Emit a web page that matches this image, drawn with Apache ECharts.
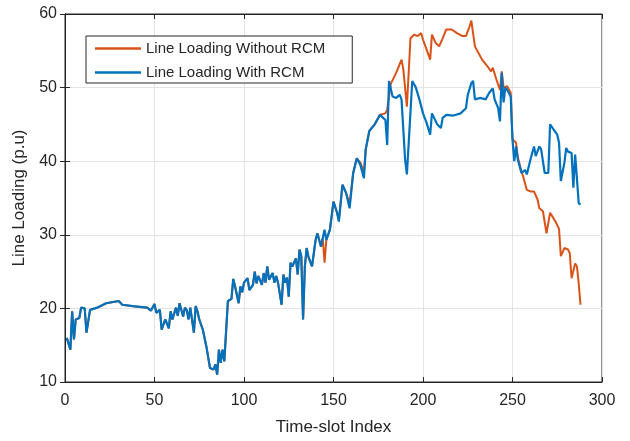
<!DOCTYPE html>
<html>
<head>
<meta charset="utf-8">
<script src="https://cdn.jsdelivr.net/npm/echarts@6/dist/echarts.min.js"></script>
<style>
html,body{margin:0;padding:0;background:#fff;}
#chart{width:630px;height:441px;}
</style>
</head>
<body>
<div id="chart"></div>
<script>
// ---- Data ----
const xTicks = [0, 50, 100, 150, 200, 250, 300];
const yTicks = [10, 20, 30, 40, 50, 60];
const seriesNames = ['Line Loading Without RCM', 'Line Loading With RCM'];

// Shared early part (both curves overlap up to slot ~143)
const commonSlots = [1,2,3,4,5,6,7,8,9,11,12,14,18,23,30,32,38,46,48,50,51,53,54,56,58,59,60,62,63,64,66,67,68,69,70,72,73,74,75,77,79,81,83,84,85,86,87,88,89,91,93,94,95,97,98,99,100,102,103,105,106,107,108,110,111,112,113,114,116,117,118,119,121,122,123,124,125,126,127,129,130,131,132,133,134,135,136,138,140,141,143];
const commonLoad = [16.0,15.8,14.4,19.6,15.8,18.5,18.7,18.7,20.1,20.0,16.7,19.8,20.1,20.7,21.0,20.5,20.3,20.1,19.7,20.6,19.4,19.8,17.1,18.5,17.3,19.6,18.5,20.1,19.0,20.7,18.9,20.1,19.8,18.5,20.1,16.7,20.3,19.6,18.5,17.1,14.8,11.9,11.7,12.4,11.0,14.4,12.6,14.4,12.8,21.0,21.3,24.0,23.0,20.7,23.0,22.2,23.5,24.1,22.5,23.2,25.0,23.4,24.4,23.2,24.8,23.5,25.7,23.9,24.8,23.5,24.4,23.5,20.5,24.6,23.5,24.2,21.6,26.2,25.7,26.8,24.6,28.0,27.1,18.5,25.7,28.2,27.0,25.7,29.3,30.2,28.4];

// Without RCM, rest of the curve
const withoutSlots = [144,145,146,148,150,152,153,155,157,159,161,163,165,167,168,170,173,176,179,180,182,185,188,189,191,193,195,197,199,200,202,204,205,207,209,211,213,216,219,222,224,226,227,228,229,231,233,236,238,239,241,243,244,245,247,249,250,252,253,255,256,258,260,262,264,265,267,269,270,271,274,276,277,279,281,282,283,285,286,287,288];
const withoutLoad = [29.5,26.2,29.3,30.7,34.5,33.0,32.0,36.8,35.7,34.2,38.4,40.4,39.8,38.5,41.6,44.1,45.0,46.3,46.5,47.0,50.5,52.0,53.8,52.5,47.4,56.7,57.2,57.0,57.4,56.5,55.2,53.8,57.2,56.1,55.6,56.7,57.9,57.9,57.4,57.0,57.0,58.3,59.1,59.0,55.6,54.7,53.8,52.9,52.2,52.7,51.1,49.7,52.2,50.0,50.2,49.3,43.0,42.5,40.5,38.6,37.9,36.1,35.9,35.9,34.8,33.6,33.2,30.2,30.0,33.0,31.8,30.8,27.1,28.2,28.0,27.5,24.1,26.1,25.7,23.4,20.5];

// With RCM, rest of the curve
const withSlots = [145,146,148,150,152,153,155,157,159,161,163,165,167,168,170,173,176,179,180,181,183,185,187,188,190,191,192,194,196,198,200,202,204,205,208,210,211,213,217,221,224,225,227,228,229,232,235,237,239,240,242,243,244,245,246,247,249,250,251,252,253,254,255,257,258,260,262,263,265,266,268,270,271,273,275,276,277,279,280,281,283,284,285,286,287,288];
const withLoad = [30.7,29.3,30.7,34.5,33.0,31.8,36.8,35.7,33.6,38.4,40.4,39.5,37.7,41.6,44.1,45.0,46.3,45.6,42.2,50.9,48.8,48.6,49.0,48.4,40.2,38.2,38.4,50.9,50.0,48.4,46.5,45.2,43.6,46.5,45.0,44.5,45.9,46.3,46.2,46.5,47.2,49.0,50.6,50.9,48.4,48.6,48.4,49.3,49.9,48.4,47.2,45.4,52.0,48.0,50.0,49.7,48.8,42.9,40.0,42.0,40.2,39.3,38.4,38.8,38.2,40.2,42.0,40.7,42.0,41.6,38.4,38.4,45.0,44.3,43.6,42.5,37.3,39.8,41.8,41.3,41.1,36.4,40.9,40.9,34.3,34.1];

// ---- Build series data ----
function pairs(xs, ys){ return xs.map((x,i)=>[x, ys[i]]); }
const withoutData = pairs(commonSlots, commonLoad).concat(pairs(withoutSlots, withoutLoad));
const withData = pairs(commonSlots, commonLoad).concat(pairs(withSlots, withLoad));

const FONT = 'Liberation Sans, Arial, sans-serif';
const TXT = '#262626';
const chart = echarts.init(document.getElementById('chart'), null, {renderer:'canvas'});
chart.setOption({
  backgroundColor: '#ffffff',
  animation: false,
  textStyle: {fontFamily: FONT},
  grid: {left: 65, right: 28, top: 14, bottom: 59, show: true, borderColor: '#262626', borderWidth: 1, backgroundColor:'#fff'},
  legend: {
    orient: 'vertical', left: 86, top: 36,
    backgroundColor: '#fff',
    borderColor: '#262626', borderWidth: 1, borderRadius: 0,
    padding: [5, 27, 3, 9],
    itemGap: 9, itemWidth: 46, itemHeight: 2.5,
    icon: 'rect',
    textStyle: {fontFamily: FONT, fontSize: 15, color: TXT},
    data: seriesNames
  },
  xAxis: [{
    type: 'value', min: xTicks[0], max: xTicks[xTicks.length-1], interval: 50,
    name: 'Time-slot Index', nameLocation: 'middle', nameGap: 37,
    nameTextStyle: {fontFamily: FONT, fontSize: 17, color: TXT},
    axisLine: {show: true, lineStyle: {color: '#262626'}},
    axisTick: {show: true, inside: true, length: 5, lineStyle: {color: '#262626'}},
    axisLabel: {fontFamily: FONT, fontSize: 16, color: TXT, margin: 11},
    splitLine: {show: true, lineStyle: {color: '#e3e3e3', width: 1}}
  },{
    type: 'value', position: 'top', min: 0, max: 300, interval: 50,
    axisLine: {show: true, lineStyle: {color: '#262626'}},
    axisTick: {show: true, inside: true, length: 5, lineStyle: {color: '#262626'}},
    axisLabel: {show: false}, splitLine: {show: false}
  }],
  yAxis: [{
    type: 'value', min: yTicks[0], max: yTicks[yTicks.length-1], interval: 10,
    name: 'Line Loading (p.u)', nameLocation: 'middle', nameGap: 25,
    nameTextStyle: {fontFamily: FONT, fontSize: 17, color: TXT},
    axisLine: {show: true, lineStyle: {color: '#262626'}},
    axisTick: {show: true, inside: true, length: 5, lineStyle: {color: '#262626'}},
    axisLabel: {fontFamily: FONT, fontSize: 16, color: TXT, margin: 8},
    splitLine: {show: true, lineStyle: {color: '#e3e3e3', width: 1}}
  },{
    type: 'value', position: 'right', min: 10, max: 60, interval: 10,
    axisLine: {show: true, lineStyle: {color: '#262626'}},
    axisTick: {show: true, inside: true, length: 5, lineStyle: {color: '#262626'}},
    axisLabel: {show: false}, splitLine: {show: false}
  }],
  series: [{
    name: seriesNames[0], type: 'line', data: withoutData,
    showSymbol: false, symbol: 'none', z: 2,
    lineStyle: {color: '#D95319', width: 2}, itemStyle: {color: '#D95319'}
  },{
    name: seriesNames[1], type: 'line', data: withData,
    showSymbol: false, symbol: 'none', z: 3,
    lineStyle: {color: '#0072BD', width: 2.2}, itemStyle: {color: '#0072BD'}
  }]
});
</script>
</body>
</html>
